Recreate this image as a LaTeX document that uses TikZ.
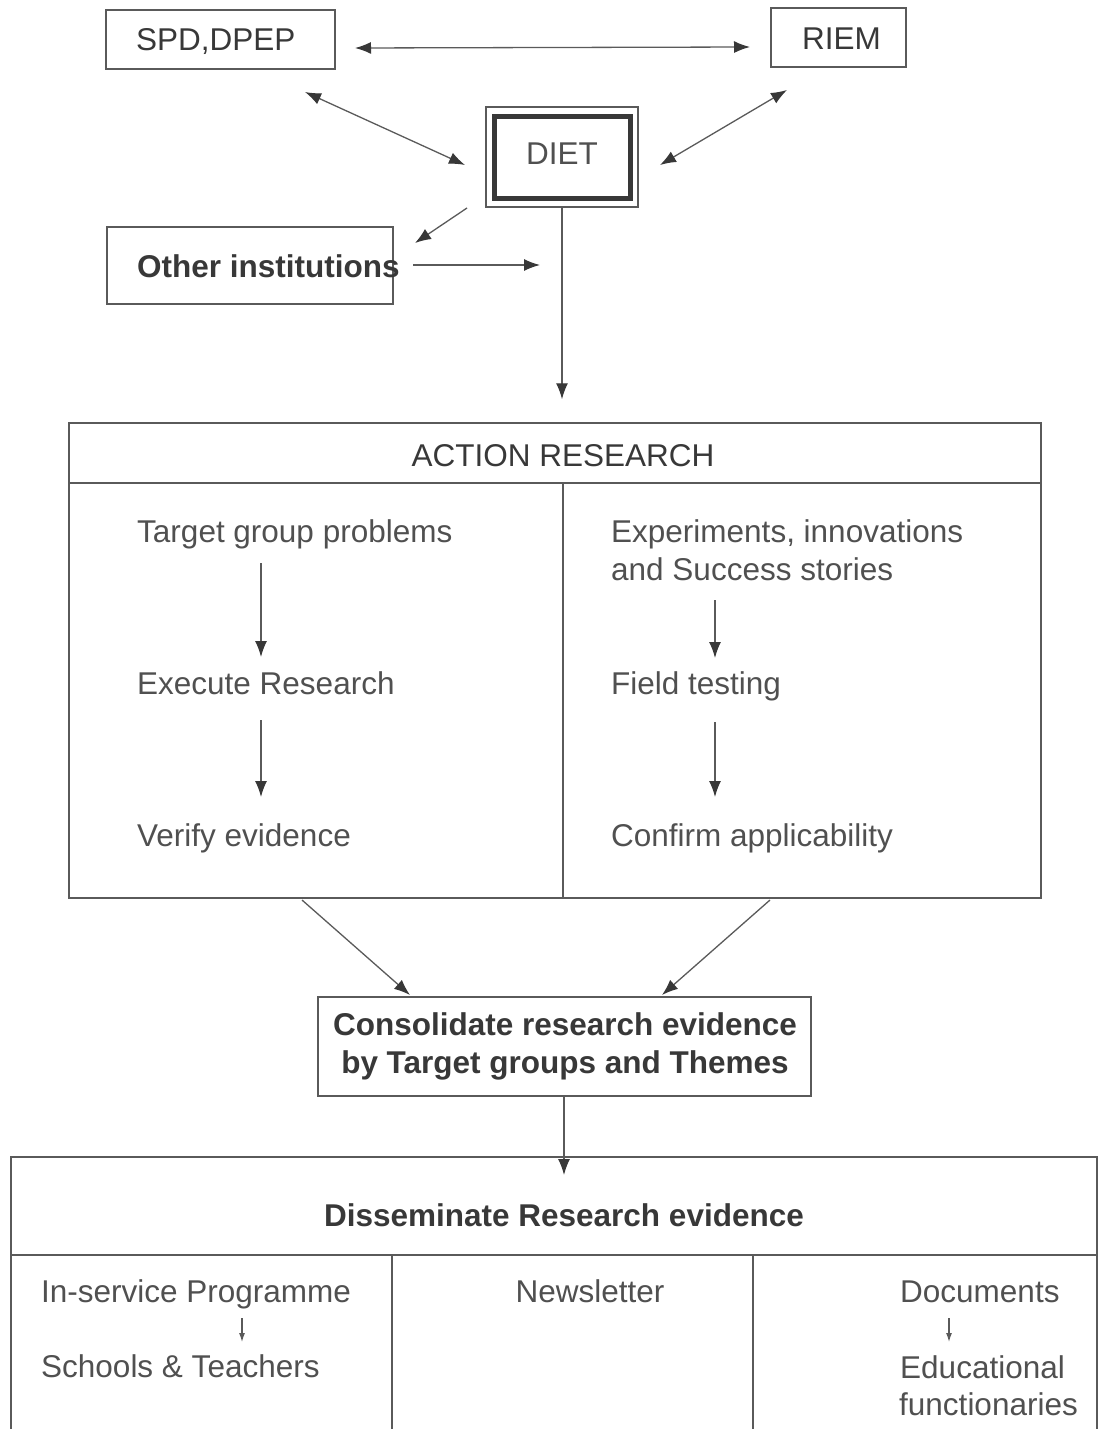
\documentclass[tikz,border=0pt]{standalone}
\usepackage{fontspec}
\setmainfont{Liberation Sans}
\usetikzlibrary{positioning, calc, arrows.meta}
\definecolor{ink}{HTML}{383838}
\definecolor{soft}{HTML}{505050}
\definecolor{rule}{HTML}{5A5A5A}
\tikzstyle{Box} = [draw=rule, line width=1.5pt, inner sep=0pt]
\tikzstyle{Label} = [text=soft, inner sep=0pt,
font=\fontsize{31.5}{38}\selectfont]
\tikzstyle{Strong} = [Label, text=ink, font=\fontsize{31.5}{38}\selectfont\bfseries]
\tikzstyle{Arrow} = [draw=rule, line width=1.3pt,
-{Latex[length=16pt,width=12pt,color=ink]}]
\tikzstyle{Both} = [Arrow,
{Latex[length=16pt,width=12pt,color=ink]}-{Latex[length=16pt,width=12pt,color=ink]}]
\tikzstyle{Tiny} = [draw=rule, line width=1.2pt,
-{Latex[length=9pt,width=6pt]}]

\begin{document}
\begin{tikzpicture}[x=1pt, y=-1pt]
    \useasboundingbox (0,0) rectangle (1098,1429);

    % top boxes
    \node[Box, minimum width=229pt, minimum height=59pt] (spd) at (220.5,39.5) {};
    \node[Label, text=ink, anchor=base west] (spdl) at (136,51) {SPD,DPEP};
    \node[Box, minimum width=135pt, minimum height=59pt] (riem) at (838.5,37.5) {};
    \node[Label, text=ink, anchor=base west] (rieml) at (802,49) {RIEM};
    \node[Box, minimum width=152pt, minimum height=100pt] (dietout) at (562,157) {};
    \node[draw=ink, line width=5pt, minimum width=136pt, minimum height=82pt,
          inner sep=0pt] (diet) at (562,157) {};
    \node[Label, anchor=base] (dietl) at (562,164) {DIET};
    \node[Box, minimum width=286pt, minimum height=77pt] (other) at (250,265.5) {};
    \node[Strong, anchor=base west] (otherl) at (137,277) {Other institutions};

    \coordinate (a1) at (355,48);
    \coordinate (a2) at (750,47);
    \coordinate (b1) at (305,92);
    \coordinate (b2) at (465,165);
    \coordinate (c1) at (787,90);
    \coordinate (c2) at (660,165);
    \coordinate (d1) at (467,208);
    \coordinate (d2) at (415,243);
    \coordinate (e1) at (413,265);
    \coordinate (e2) at (540,265);

    \draw[Both] (a1) -- (a2);
    \draw[Both] (b1) -- (b2);
    \draw[Both] (c1) -- (c2);
    \draw[Arrow] (d1) -- (d2);
    \draw[Arrow] (e1) -- (e2);

    % action research
    \node[Box, minimum width=972pt, minimum height=475pt] (ar) at (555,660.5) {};
    \draw[rule, line width=1.5pt] (ar.west |- 0,483) -- (ar.east |- 0,483);
    \draw[rule, line width=1.5pt] (563,483) -- (ar.south -| 563,0);
    \node[Label, text=ink, anchor=base] (arl) at (563,466) {ACTION RESEARCH};
    \draw[Arrow, shorten >=23pt] (dietout.south) -- (ar.north -| dietout.south);

    \node[Label, anchor=base west] (tgp) at (137,542) {Target group problems};
    \node[Label, anchor=base west] (exe) at (137,694) {Execute Research};
    \node[Label, anchor=base west] (ver) at (137,846) {Verify evidence};
    \node[Label, anchor=base west] (exp) at (611,542) {Experiments, innovations};
    \node[Label, anchor=base west] (suc) at (611,580) {and Success stories};
    \node[Label, anchor=base west] (fld) at (611,694) {Field testing};
    \node[Label, anchor=base west] (cnf) at (611,846) {Confirm applicability};

    \draw[Arrow] (261,563) -- (261,657);
    \draw[Arrow] (261,720) -- (261,797);
    \draw[Arrow] (715,600) -- (715,658);
    \draw[Arrow] (715,722) -- (715,797);

    % consolidate
    \node[Box, minimum width=493pt, minimum height=99pt] (con) at (564.5,1046.5) {};
    \node[Strong, anchor=base] (con1) at (565,1035) {Consolidate research evidence};
    \node[Strong, anchor=base] (con2) at (565,1073) {by Target groups and Themes};
    \draw[Arrow] (302,900) -- (410,995);
    \draw[Arrow] (770,900) -- (662,995);

    % disseminate
    \draw[rule, line width=1.5pt] (11,1440) -- (11,1157) -- (1097,1157) -- (1097,1440);
    \coordinate (dis) at (564,1157);
    \draw[rule, line width=1.5pt] (11,1255) -- (1097,1255);
    \draw[rule, line width=1.5pt] (392,1255) -- (392,1440);
    \draw[rule, line width=1.5pt] (753,1255) -- (753,1440);
    \draw[Arrow, shorten >=-18pt] (con.south -| dis) -- (dis);
    \node[Strong, anchor=base] (disl) at (564,1226) {Disseminate Research evidence};

    \node[Label, anchor=base west] (isp) at (41,1302) {In-service Programme};
    \node[Label, anchor=base west] (sch) at (41,1377) {Schools \& Teachers};
    \node[Label, anchor=base] (nws) at (590,1302) {Newsletter};
    \node[Label, anchor=base west] (doc) at (900,1302) {Documents};
    \node[Label, anchor=base west] (edu) at (900,1378) {Educational};
    \node[Label, anchor=base west] (fun) at (899,1415) {functionaries};
    \draw[Tiny] (242,1318) -- (242,1342);
    \draw[Tiny] (949,1318) -- (949,1342);
\end{tikzpicture}
\end{document}
